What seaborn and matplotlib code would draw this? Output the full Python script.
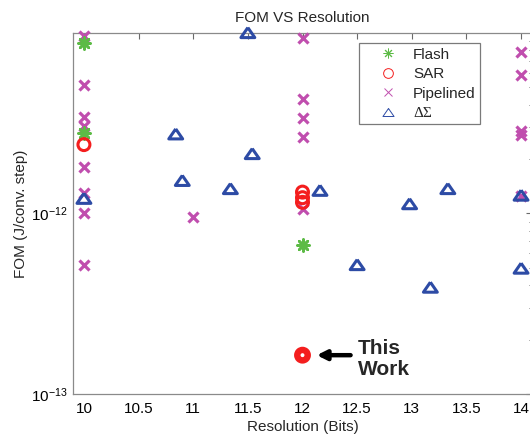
import matplotlib
matplotlib.use("Agg")
import matplotlib.pyplot as plt
import numpy as np
import pandas as pd
import seaborn as sns
from matplotlib.lines import Line2D
from matplotlib.ticker import (MultipleLocator, FormatStrFormatter, LogLocator,
                               NullFormatter, FixedLocator, LogFormatterSciNotation)

# ---- data ----
flash_x = [10, 10, 12]
flash_y = [8.8e-12, 2.77e-12, 6.7e-13]

sar_x = [10, 12, 12, 12]
sar_y = [2.4e-12, 1.31e-12, 1.22e-12, 1.15e-12]

this_work_x = [12]
this_work_y = [1.64e-13]

pipe_x = [10, 10, 10, 10, 10, 10, 10, 10, 11, 12, 12, 12, 12, 12, 14, 14, 14, 14, 14]
pipe_y = [9.6e-12, 5.1e-12, 3.4e-12, 3.06e-12, 1.8e-12, 1.29e-12, 1.0e-12, 5.16e-13,
          0.95e-12, 9.3e-12, 4.3e-12, 3.35e-12, 2.66e-12, 1.06e-12,
          7.85e-12, 5.8e-12, 2.85e-12, 2.7e-12, 1.25e-12]

ds_x = [10, 10.84, 10.9, 11.34, 11.5, 11.54, 12.16, 12.5, 12.98, 13.17, 13.33, 14, 14]
ds_y = [1.21e-12, 2.75e-12, 1.52e-12, 1.37e-12, 1.0e-11, 2.14e-12, 1.34e-12, 5.2e-13,
        1.13e-12, 3.9e-13, 1.37e-12, 1.26e-12, 4.97e-13]

legend_labels = ["Flash", "SAR", "Pipelined", "\u0394\u03a3"]
x_ticks = [10, 10.5, 11, 11.5, 12, 12.5, 13, 13.5, 14]
y_ticks = [1e-13, 1e-12]

# ---- style ----
sns.set_style("white")
plt.rcParams['font.family'] = ['Liberation Sans', 'DejaVu Sans']
plt.rcParams['font.size'] = 11

c_flash = "#5DBB46"
c_sar = "#F41E1E"
c_pipe = "#C04EAE"
c_ds = "#2D4BA5"
tri = [(0, 0.72), (-1, -0.72), (1, -0.72), (0, 0.72)]
aster = (8, 2, 0)

fig = plt.figure(figsize=(5.3, 4.38), dpi=100)
ax = fig.add_axes([73/530, 44/438, 459/530, 361/438])

df_pipe = pd.DataFrame({"x": pipe_x, "y": pipe_y})
df_flash = pd.DataFrame({"x": flash_x, "y": flash_y})
df_sar = pd.DataFrame({"x": sar_x, "y": sar_y})
df_tw = pd.DataFrame({"x": this_work_x, "y": this_work_y})
df_ds = pd.DataFrame({"x": ds_x, "y": ds_y})

sns.scatterplot(data=df_pipe, x="x", y="y", ax=ax, marker="x", color=c_pipe,
                s=52, linewidth=2.3, clip_on=False, legend=False, zorder=3)
sns.scatterplot(data=df_flash, x="x", y="y", ax=ax, marker=aster, color=c_flash,
                edgecolor=c_flash, s=74, linewidth=1.9, clip_on=False, legend=False, zorder=4)
sns.scatterplot(data=df_sar, x="x", y="y", ax=ax, marker="o", color=c_sar,
                facecolor="none", edgecolor=c_sar, s=74, linewidth=2.2,
                clip_on=False, legend=False, zorder=5)
sns.scatterplot(data=df_tw, x="x", y="y", ax=ax, marker="o", color=c_sar,
                facecolor="none", edgecolor=c_sar, s=57, linewidth=4.6,
                clip_on=False, legend=False, zorder=5)
sns.scatterplot(data=df_ds, x="x", y="y", ax=ax, marker=tri, color=c_ds,
                facecolor="none", edgecolor=c_ds, s=100, linewidth=2.2,
                clip_on=False, legend=False, zorder=6)

ax.set_yscale("log")
ax.set_xlim(9.9, 14.1)
ax.set_ylim(1e-13, 0.995e-11)

ax.xaxis.set_major_locator(FixedLocator(x_ticks))
ax.xaxis.set_major_formatter(FormatStrFormatter("%g"))
ax.yaxis.set_major_locator(FixedLocator(y_ticks))
ax.yaxis.set_major_formatter(LogFormatterSciNotation(base=10))
ax.yaxis.set_minor_locator(LogLocator(base=10, subs=np.arange(2, 10)))
ax.yaxis.set_minor_formatter(NullFormatter())

for side, sp in ax.spines.items():
    sp.set_visible(True)
    sp.set_color("#8a8a8a")
    sp.set_linewidth(0.9)

ax.tick_params(axis="both", which="both", direction="in", top=True, right=True,
               color="#6a6a6a", labelcolor="black", labelsize=11)
ax.tick_params(axis="both", which="major", length=4, width=0.8)
ax.tick_params(axis="y", which="minor", length=2.5, width=0.7)
ax.tick_params(axis="x", which="major", pad=6)
ax.tick_params(axis="y", which="major", pad=4)

ax.set_title("FOM VS Resolution", fontsize=11, pad=8)
ax.set_xlabel("Resolution (Bits)", fontsize=11, labelpad=3)
ax.set_ylabel("FOM (J/conv. step)", fontsize=11, labelpad=2)

# "This Work" annotation
ax.annotate("", xy=(12.13, 1.64e-13), xytext=(12.44, 1.64e-13),
            arrowprops=dict(arrowstyle="-|>", lw=3.2, color="black",
                            mutation_scale=14, shrinkA=0, shrinkB=0))
ax.text(12.51, 1.56e-13, "This\nWork", fontsize=15, fontweight="bold",
        ha="left", va="center", linespacing=1.1)

# legend
handles = [
    Line2D([], [], marker=aster, color=c_flash, linestyle="none", markersize=7,
           markeredgewidth=0.7),
    Line2D([], [], marker="o", color=c_sar, linestyle="none", markersize=7,
           markerfacecolor="none", markeredgewidth=0.7),
    Line2D([], [], marker="x", color=c_pipe, linestyle="none", markersize=5.5,
           markeredgewidth=0.7),
    Line2D([], [], marker=tri, color=c_ds, linestyle="none", markersize=8,
           markerfacecolor="none", markeredgewidth=0.7),
]
leg = ax.legend(handles, legend_labels, loc="upper left",
                bbox_to_anchor=(0.623, 0.972), borderaxespad=0,
                fontsize=11, frameon=True, fancybox=False, framealpha=1,
                edgecolor="#7a7a7a", borderpad=0.3, handlelength=3.2,
                handletextpad=0.05, labelspacing=0.36, numpoints=1)
leg.get_frame().set_linewidth(0.9)
leg.get_texts()[3].set_fontfamily(["Liberation Serif", "DejaVu Serif"])

fig.savefig("out.png", dpi=100)
